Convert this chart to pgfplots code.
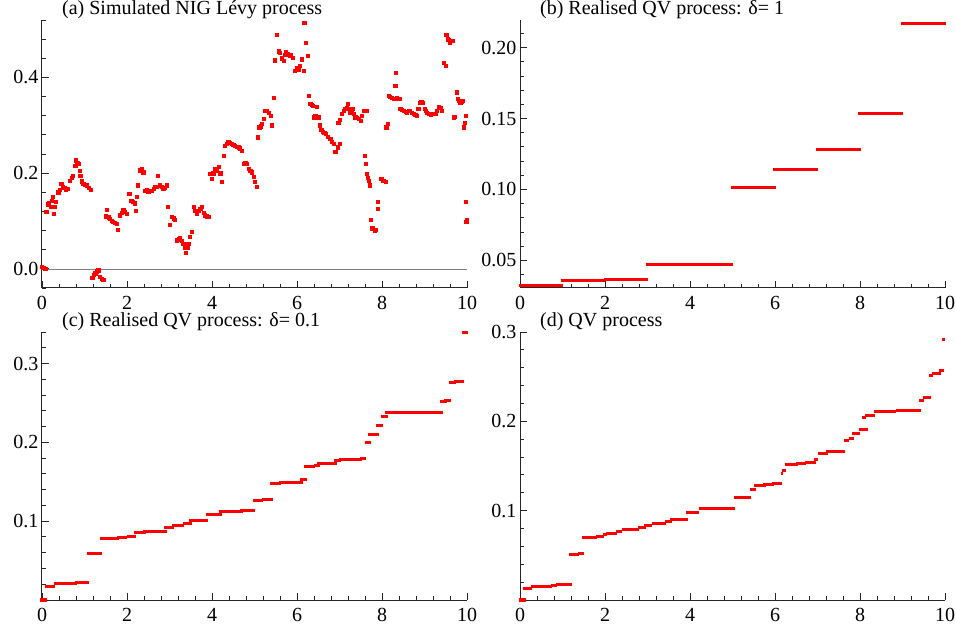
\documentclass[border=0pt]{standalone}
\usepackage{fontspec}
\setmainfont{Liberation Serif}
\usepackage{pgfplots}
\pgfplotsset{compat=1.18}
\pgfplotsset{
  panel/.style={
    scale only axis, width=425bp, height=268bp,
    anchor=south west,
    axis x line=bottom, axis y line=left,
    axis line style={-, line width=1bp, black!85},
    tick style={line width=0.9bp, black!85},
    tick align=inside,
    major tick length=7bp, minor tick length=4bp,
    xmin=0, xmax=10,
    xtick={0,2,4,6,8,10},
    minor xtick={0.4,0.8,1.2,1.6,2.4,2.8,3.2,3.6,4.4,4.8,5.2,5.6,6.4,6.8,7.2,7.6,8.4,8.8,9.2,9.6},
    /pgf/number format/assume math mode=true,
    xticklabel style={yshift=-5bp},
    every axis title shift=0pt,
    title style={at={(axis description cs:0.047,1)}, anchor=base west, yshift=5bp, inner sep=0pt},
    clip=false,
  },
  steps/.style={red, line width=3bp, line cap=butt, unbounded coords=jump, forget plot},
}
\begin{document}
\begin{tikzpicture}[font=\fontsize{20bp}{24bp}\selectfont]
\useasboundingbox (0,0) rectangle (956bp,632bp);
% (a)
\begin{axis}[panel, at={(42bp,344bp)},
  ymin=-0.04, ymax=0.52,
  ytick={0,0.2,0.4},
  minor ytick={-0.04,0.04,0.08,0.12,0.16,0.24,0.28,0.32,0.36,0.44,0.48,0.52},
  yticklabel style={/pgf/number format/.cd, fixed, fixed zerofill, precision=1},
  title={(a) Simulated NIG Lévy process}]
\addplot[gray, line width=0.7bp] coordinates {(0,0) (10,0)};
\addplot[red, only marks, mark=square*, mark size=1.6bp, mark options={draw=none, fill=red}] coordinates {
(0.00,0.004)(0.03,0.002)(0.06,0.001)(0.09,0.001)
(0.10,0.120)(0.13,0.135)(0.16,0.138)(0.20,0.130)(0.23,0.142)(0.25,0.150)(0.28,0.115)(0.30,0.130)(0.33,0.140)(0.38,0.160)(0.42,0.165)(0.45,0.178)(0.48,0.172)(0.52,0.170)(0.56,0.165)(0.60,0.168)(0.65,0.185)(0.70,0.190)(0.73,0.195)(0.78,0.215)(0.80,0.227)(0.83,0.222)(0.85,0.220)(0.88,0.205)(0.90,0.195)(0.94,0.183)(0.97,0.178)(1.01,0.176)(1.05,0.175)(1.09,0.170)(1.14,0.165)
(1.18,-0.019)(1.22,-0.013)(1.25,-0.009)(1.29,-0.005)(1.32,-0.003)(1.36,-0.016)(1.40,-0.020)(1.44,-0.023)
(1.50,0.110)(1.52,0.124)(1.56,0.108)(1.60,0.105)(1.64,0.100)(1.67,0.098)(1.71,0.097)(1.75,0.095)(1.79,0.081)(1.83,0.112)(1.87,0.118)(1.91,0.123)(1.95,0.120)(1.99,0.116)(2.05,0.157)(2.10,0.143)(2.14,0.140)(2.18,0.137)(2.20,0.121)(2.22,0.150)(2.26,0.175)(2.30,0.206)(2.34,0.210)(2.38,0.202)(2.42,0.164)(2.46,0.165)(2.50,0.161)(2.54,0.163)(2.58,0.164)(2.62,0.168)(2.66,0.171)(2.70,0.172)(2.73,0.195)(2.77,0.175)(2.81,0.172)(2.85,0.168)(2.89,0.170)(2.93,0.175)(2.95,0.130)(3.01,0.092)(3.05,0.109)(3.09,0.106)(3.12,0.102)(3.17,0.060)(3.21,0.062)(3.24,0.064)(3.28,0.058)(3.32,0.053)(3.36,0.045)(3.39,0.033)(3.42,0.045)(3.44,0.053)(3.48,0.067)(3.52,0.078)(3.56,0.130)(3.60,0.122)(3.64,0.116)(3.68,0.122)(3.72,0.126)(3.76,0.130)(3.80,0.118)(3.83,0.112)(3.87,0.110)(3.91,0.109)
(3.95,0.199)(3.99,0.189)(4.03,0.200)(4.07,0.209)(4.11,0.205)(4.15,0.213)(4.19,0.199)(4.21,0.200)(4.23,0.182)(4.27,0.237)(4.30,0.258)(4.34,0.262)(4.38,0.265)(4.42,0.263)(4.46,0.261)(4.50,0.260)(4.54,0.258)(4.58,0.256)(4.62,0.254)(4.66,0.252)(4.70,0.247)(4.74,0.220)(4.78,0.222)(4.82,0.220)(4.86,0.209)(4.90,0.205)(4.94,0.202)(4.98,0.192)(5.01,0.182)(5.05,0.171)
(5.07,0.275)(5.11,0.296)(5.14,0.298)(5.17,0.303)(5.21,0.313)(5.25,0.331)(5.29,0.330)(5.33,0.327)(5.38,0.320)(5.40,0.300)(5.45,0.358)(5.48,0.436)(5.52,0.490)(5.56,0.455)(5.60,0.452)(5.64,0.440)(5.68,0.435)(5.72,0.448)(5.74,0.454)(5.78,0.450)(5.82,0.445)(5.86,0.448)(5.90,0.442)(5.95,0.414)(5.99,0.420)(6.03,0.417)(6.07,0.425)(6.11,0.438)(6.15,0.414)(6.17,0.514)(6.21,0.473)(6.25,0.445)
(6.27,0.362)(6.31,0.345)(6.34,0.343)(6.37,0.341)(6.40,0.317)(6.43,0.320)(6.46,0.338)(6.50,0.317)(6.54,0.300)(6.57,0.290)(6.60,0.286)(6.64,0.284)(6.68,0.282)(6.73,0.276)(6.78,0.272)(6.82,0.266)(6.86,0.261)(6.90,0.244)(6.95,0.254)(7.00,0.261)(6.97,0.306)(7.01,0.312)(7.05,0.324)(7.09,0.330)(7.13,0.334)(7.16,0.336)(7.19,0.345)(7.22,0.335)(7.25,0.327)(7.28,0.330)(7.31,0.334)(7.34,0.325)(7.37,0.317)(7.41,0.316)(7.45,0.313)(7.50,0.310)(7.53,0.320)(7.56,0.331)(7.63,0.331)
(7.60,0.237)(7.62,0.220)(7.64,0.199)(7.66,0.190)(7.68,0.185)(7.71,0.175)(7.74,0.103)(7.77,0.085)(7.79,0.085)(7.83,0.080)(7.86,0.082)(7.89,0.140)(7.90,0.126)(7.96,0.189)(8.00,0.188)(8.03,0.185)(8.08,0.182)
(8.10,0.296)(8.13,0.303)(8.15,0.362)(8.19,0.360)(8.23,0.358)(8.27,0.356)(8.31,0.383)(8.33,0.410)(8.35,0.358)(8.38,0.356)(8.41,0.355)(8.43,0.334)(8.47,0.332)(8.51,0.331)(8.55,0.328)(8.59,0.327)(8.63,0.330)(8.66,0.331)(8.70,0.326)(8.74,0.324)(8.78,0.322)(8.82,0.320)(8.85,0.335)(8.88,0.348)(8.92,0.350)(8.96,0.348)(9.00,0.335)(9.02,0.331)(9.06,0.327)(9.10,0.324)(9.14,0.323)(9.18,0.324)(9.22,0.324)(9.25,0.324)(9.29,0.330)(9.33,0.338)(9.37,0.336)(9.41,0.331)
(9.45,0.431)(9.49,0.424)(9.51,0.490)(9.54,0.480)(9.57,0.478)(9.60,0.473)(9.65,0.476)(9.68,0.317)(9.71,0.318)(9.75,0.369)(9.78,0.355)(9.81,0.352)(9.84,0.348)(9.88,0.350)(9.90,0.351)(9.92,0.296)(9.94,0.305)(9.96,0.320)(9.96,0.140)(9.98,0.098)(9.99,0.103)
};
\end{axis}
% (b)
\begin{axis}[panel, at={(520bp,344bp)},
  ymin=0.0305, ymax=0.2195,
  ytick={0.05,0.10,0.15,0.20},
  minor ytick={0.04,0.06,0.07,0.08,0.09,0.11,0.12,0.13,0.14,0.16,0.17,0.18,0.19,0.21},
  yticklabel style={/pgf/number format/.cd, fixed, fixed zerofill, precision=2},
  title={(b) Realised QV process: δ= 1}]
\addplot[steps] coordinates {
(-0.02,0.0324)(1.02,0.0324)(1.02,nan)
(0.96,0.0359)(2.00,0.0359)(2.00,nan)
(1.98,0.0366)(3.02,0.0366)(3.02,nan)
(2.96,0.0472)(5.02,0.0472)(5.02,nan)
(4.96,0.1014)(6.02,0.1014)(6.02,nan)
(5.96,0.1141)(7.02,0.1141)(7.02,nan)
(6.96,0.1282)(8.02,0.1282)(8.02,nan)
(7.96,0.1535)(9.02,0.1535)(9.02,nan)
(8.96,0.2169)(10.02,0.2169)
};
\end{axis}
% (c)
\begin{axis}[panel, at={(42bp,32bp)},
  ymin=0, ymax=0.34,
  ytick={0.1,0.2,0.3},
  minor ytick={0.02,0.04,0.06,0.08,0.12,0.14,0.16,0.18,0.22,0.24,0.26,0.28,0.32,0.34},
  yticklabel style={/pgf/number format/.cd, fixed, fixed zerofill, precision=1},
  title={(c) Realised QV process: δ= 0.1}]
\addplot[steps] coordinates {
(-0.04,0.0)(0.12,0.0)(0.12,nan)
(0.06,0.0177)(0.30,0.0177)(0.30,nan)
(0.28,0.0203)(0.69,0.0203)(0.69,nan)
(0.68,0.0215)(0.82,0.0215)(0.82,nan)
(0.77,0.0228)(1.11,0.0228)(1.11,nan)
(1.06,0.0590)(1.42,0.0590)(1.42,nan)
(1.36,0.0780)(1.81,0.0780)(1.81,nan)
(1.77,0.0793)(2.00,0.0793)(2.00,nan)
(1.99,0.0806)(2.22,0.0806)(2.22,nan)
(2.16,0.0857)(2.44,0.0857)(2.44,nan)
(2.38,0.0869)(2.93,0.0869)(2.93,nan)
(2.88,0.0920)(3.11,0.0920)(3.11,nan)
(3.06,0.0945)(3.34,0.0945)(3.34,nan)
(3.32,0.0970)(3.52,0.0970)(3.52,nan)
(3.46,0.1008)(3.91,0.1008)(3.91,nan)
(3.86,0.1084)(4.23,0.1084)(4.23,nan)
(4.16,0.1122)(4.72,0.1122)(4.72,nan)
(4.66,0.1135)(5.02,0.1135)(5.02,nan)
(4.97,0.1266)(5.21,0.1266)(5.21,nan)
(5.18,0.1278)(5.43,0.1278)(5.43,nan)
(5.36,0.1477)(5.62,0.1477)(5.62,nan)
(5.58,0.1494)(6.14,0.1494)(6.14,nan)
(6.07,0.1527)(6.23,0.1527)(6.23,nan)
(6.17,0.1692)(6.43,0.1692)(6.43,nan)
(6.39,0.1705)(6.54,0.1705)(6.54,nan)
(6.48,0.1734)(6.94,0.1734)(6.94,nan)
(6.88,0.1764)(7.03,0.1764)(7.03,nan)
(6.98,0.1781)(7.53,0.1781)(7.53,nan)
(7.49,0.1793)(7.62,0.1793)(7.62,nan)
(7.59,0.1996)(7.74,0.1996)(7.74,nan)
(7.68,0.2097)(7.92,0.2097)(7.92,nan)
(7.86,0.2211)(8.02,0.2211)(8.02,nan)
(7.98,0.2325)(8.14,0.2325)(8.14,nan)
(8.08,0.2376)(8.82,0.2376)(8.82,nan)
(8.78,0.2384)(9.43,0.2384)(9.43,nan)
(9.37,0.2515)(9.53,0.2515)(9.53,nan)
(9.47,0.2527)(9.62,0.2527)(9.62,nan)
(9.57,0.2755)(9.75,0.2755)(9.75,nan)
(9.70,0.2768)(9.94,0.2768)(9.94,nan)
(9.88,0.3390)(10.02,0.3390)
};
\end{axis}
% (d)
\begin{axis}[panel, at={(520bp,32bp)},
  ymin=0, ymax=0.30,
  ytick={0.1,0.2,0.3},
  minor ytick={0.02,0.04,0.06,0.08,0.12,0.14,0.16,0.18,0.22,0.24,0.26,0.28},
  yticklabel style={/pgf/number format/.cd, fixed, fixed zerofill, precision=1},
  title={(d) QV process}]
\addplot[steps] coordinates {
(-0.02,0.0)(0.13,0.0)(0.13,nan)
(0.07,0.0130)(0.29,0.0130)(0.29,nan)
(0.25,0.0149)(0.76,0.0149)(0.76,nan)
(0.72,0.0164)(0.88,0.0164)(0.88,nan)
(0.84,0.0175)(1.22,0.0175)(1.22,nan)
(1.15,0.0509)(1.39,0.0509)(1.39,nan)
(1.37,0.0520)(1.51,0.0520)(1.51,nan)
(1.45,0.0695)(1.82,0.0695)(1.82,nan)
(1.78,0.0714)(1.98,0.0714)(1.98,nan)
(1.96,0.0729)(2.05,0.0729)(2.05,nan)
(2.02,0.0743)(2.29,0.0743)(2.29,nan)
(2.25,0.0762)(2.41,0.0762)(2.41,nan)
(2.39,0.0788)(2.80,0.0788)(2.80,nan)
(2.78,0.0807)(2.96,0.0807)(2.96,nan)
(2.92,0.0833)(3.11,0.0833)(3.11,nan)
(3.10,0.0855)(3.43,0.0855)(3.43,nan)
(3.42,0.0874)(3.58,0.0874)(3.58,nan)
(3.54,0.0900)(3.96,0.0900)(3.96,nan)
(3.91,0.0981)(4.21,0.0981)(4.21,nan)
(4.21,0.1019)(5.07,0.1019)(5.07,nan)
(5.04,0.1152)(5.43,0.1152)(5.43,nan)
(5.40,0.1234)(5.55,0.1234)(5.55,nan)
(5.51,0.1279)(5.78,0.1279)(5.78,nan)
(5.72,0.1290)(5.98,0.1290)(5.98,nan)
(5.94,0.1309)(6.17,0.1309)(6.17,nan)
(6.13,0.1420)(6.19,0.1420)(6.19,nan)
(6.17,0.1446)(6.25,0.1446)(6.25,nan)
(6.24,0.1513)(6.53,0.1513)(6.53,nan)
(6.49,0.1532)(6.72,0.1532)(6.72,nan)
(6.71,0.1543)(6.96,0.1543)(6.96,nan)
(6.92,0.1576)(7.02,0.1576)(7.02,nan)
(7.00,0.1643)(7.25,0.1643)(7.25,nan)
(7.21,0.1662)(7.64,0.1662)(7.64,nan)
(7.63,0.1784)(7.75,0.1784)(7.75,nan)
(7.73,0.1803)(7.85,0.1803)(7.85,nan)
(7.80,0.1859)(7.99,0.1859)(7.99,nan)
(7.97,0.1903)(8.18,0.1903)(8.18,nan)
(8.04,0.2041)(8.15,0.2041)(8.15,nan)
(8.12,0.2070)(8.35,0.2070)(8.35,nan)
(8.33,0.2112)(8.85,0.2112)(8.85,nan)
(8.84,0.2126)(9.43,0.2126)(9.43,nan)
(9.39,0.2238)(9.51,0.2238)(9.51,nan)
(9.48,0.2268)(9.66,0.2268)(9.66,nan)
(9.62,0.2517)(9.72,0.2517)(9.72,nan)
(9.69,0.2535)(9.90,0.2535)(9.90,nan)
(9.87,0.2572)(9.98,0.2572)(9.98,nan)
(9.94,0.2914)(10.00,0.2914)
};
\end{axis}
\end{tikzpicture}
\end{document}
